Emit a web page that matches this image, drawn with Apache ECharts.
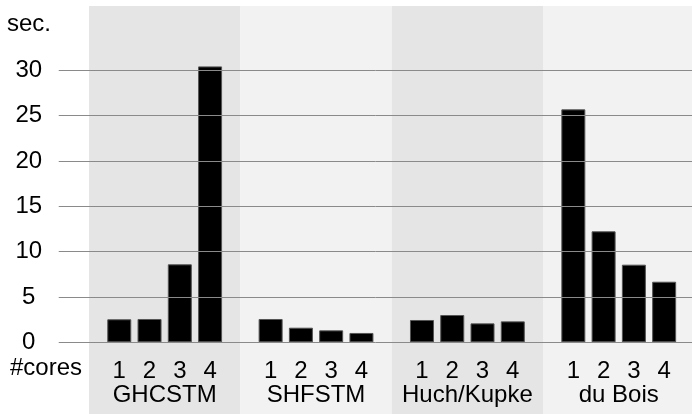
<!DOCTYPE html>
<html>
<head>
<meta charset="utf-8">
<script src="https://cdn.jsdelivr.net/npm/echarts@6/dist/echarts.min.js"></script>
<style>
html,body{margin:0;padding:0;background:#fff;}
#chart{width:692px;height:414px;}
</style>
</head>
<body>
<div id="chart"></div>
<script>
// ---- data ----
var groups = ['GHCSTM', 'SHFSTM', 'Huch/Kupke', 'du Bois'];
var cores = ['1', '2', '3', '4'];
var ghcstm = [2.54, 2.57, 8.6, 30.43];
var shfstm = [2.57, 1.61, 1.32, 1.03];
var huchKupke = [2.46, 3.01, 2.09, 2.31];
var duBois = [25.69, 12.24, 8.56, 6.68];
var yTicks = [0, 5, 10, 15, 20, 25, 30];

var seriesValues = [ghcstm, shfstm, huchKupke, duBois];
var slotsPerGroup = cores.length + 1;

// bar data: x position = group*slots + core index + 1
var barData = [];
seriesValues.forEach(function (vals, g) {
  vals.forEach(function (v, i) {
    barData.push([g * slotsPerGroup + i + 1, v]);
  });
});
var panelData = groups.map(function (_, g) { return [g]; });

var FONT = '"Liberation Sans", Arial, sans-serif';
var yMin = 0, yMax = 37.09;
var xMin = -1, xMax = 19.92;

var chart = echarts.init(document.getElementById('chart'), null, {renderer: 'canvas'});
chart.setOption({
  animation: false,
  backgroundColor: '#ffffff',
  grid: {left: 58.73, right: 0, top: 6, bottom: 71.7, containLabel: false, outerBoundsMode: 'none'},
  xAxis: {
    type: 'value',
    z: 10,
    min: xMin, max: xMax, interval: 0.5,
    axisLine: {show: false},
    axisTick: {show: false},
    splitLine: {show: false},
    axisLabel: {
      show: true,
      margin: 17,
      color: '#000',
      fontFamily: FONT,
      fontSize: 24,
      lineHeight: 24,
      showMinLabel: true,
      showMaxLabel: true,
      formatter: function (v) {
        var r = Math.round(v * 2) / 2;
        if (Math.abs(r - v) > 1e-6) return '';
        if (r >= 0 && Math.abs(r - Math.round(r)) < 1e-6) {
          var k = Math.round(r) % slotsPerGroup;
          if (k >= 1 && k <= cores.length) return cores[k - 1];
          return '';
        }
        var g = (r - slotsPerGroup / 2) / slotsPerGroup;
        if (r > 0 && Math.abs(g - Math.round(g)) < 1e-6) {
          var gi = Math.round(g);
          if (gi >= 0 && gi < groups.length) return '\n' + groups[gi];
        }
        return '';
      }
    }
  },
  yAxis: {
    type: 'value',
    z: 10,
    min: yMin, max: yMax, interval: 5,
    axisLine: {show: false, onZero: false},
    axisTick: {show: false},
    splitLine: {show: false},
    axisLabel: {
      margin: 30,
      align: 'center',
      color: '#000',
      fontFamily: FONT,
      fontSize: 24,
      showMinLabel: true,
      formatter: function (v) {
        return yTicks.indexOf(v) >= 0 ? String(v) : '';
      }
    }
  },
  graphic: [
    {type: 'text', left: 7, top: 12, z: 20, style: {text: 'sec.', font: '24px ' + FONT, fill: '#000'}},
    {type: 'text', left: 10, top: 356, z: 20, style: {text: '#cores', font: '24px ' + FONT, fill: '#000'}}
  ],
  series: [
    {
      type: 'custom',
      z: 1,
      silent: true,
      clip: false,
      data: panelData,
      renderItem: function (params, api) {
        var g = api.value(0);
        var p0 = api.coord([g * slotsPerGroup, yMax]);
        var p1 = api.coord([(g + 1) * slotsPerGroup, yMin]);
        var bottom = api.getHeight();
        return {
          type: 'rect',
          shape: {x: p0[0], y: p0[1], width: p1[0] - p0[0], height: bottom - p0[1]},
          style: {fill: g % 2 === 0 ? '#e5e5e5' : '#f2f2f2'}
        };
      }
    },
    {
      type: 'scatter',
      z: 2,
      silent: true,
      data: [],
      markLine: {
        silent: true,
        symbol: ['none', 'none'],
        label: {show: false},
        lineStyle: {color: '#8a8a8a', width: 1, type: 'solid'},
        data: yTicks.map(function (v) { return {yAxis: v}; })
      }
    },
    {
      type: 'bar',
      z: 3,
      barWidth: 24,
      data: barData,
      itemStyle: {color: '#000000', borderColor: '#555555', borderWidth: 1}
    }
  ]
});
</script>
</body>
</html>
